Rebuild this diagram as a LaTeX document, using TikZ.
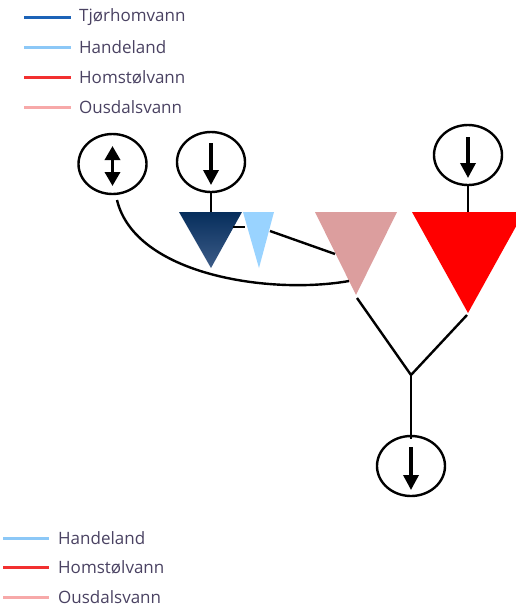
\documentclass[tikz,border=0pt]{standalone}
\usepackage{fontspec}
\setmainfont{Open Sans}
\usetikzlibrary{shapes.geometric,arrows.meta}
\definecolor{legtext}{HTML}{4A4262}
\definecolor{ctjor}{HTML}{1C63B7}
\definecolor{chand}{HTML}{8CC8F7}
\definecolor{chom}{HTML}{F23030}
\definecolor{cous}{HTML}{F7A9A9}
\definecolor{tdarktop}{HTML}{062E5C}
\definecolor{tdarkbot}{HTML}{3D5C88}
\definecolor{tlight}{HTML}{99D3FF}
\definecolor{tpink}{HTML}{DC9E9E}
\definecolor{tred}{HTML}{FF0000}
\tikzset{
  valve/.style={draw=black, line width=2.4pt, ellipse, minimum width=68pt, minimum height=60pt, inner sep=0pt},
  conn/.style={draw=black, line width=2.4pt},
  flow/.style={line width=3.4pt, -{Triangle[length=15pt,width=15pt]}},
  bflow/.style={line width=3.4pt, {Triangle[length=14pt,width=15pt]}-{Triangle[length=14pt,width=15pt]}},
  legline/.style={line width=3pt},
  legtxt/.style={anchor=west, text=legtext, font=\fontsize{17}{19}\selectfont, inner sep=0pt}
}
\begin{document}
\begin{tikzpicture}[x=1pt,y=-1pt]
\useasboundingbox (0,0) rectangle (515,606);
% top legend
\draw[legline,ctjor] (24,17) -- (71,17);
\node[legtxt] (l1) at (79,17) {Tjørhomvann};
\draw[legline,chand] (24,47) -- (71,47);
\node[legtxt] (l2) at (79,47) {Handeland};
\draw[legline,chom] (24,77) -- (71,77);
\node[legtxt] (l3) at (79,77) {Homstølvann};
\draw[legline,cous] (24,107) -- (71,107);
\node[legtxt] (l4) at (79,107) {Ousdalsvann};
% bottom legend
\draw[legline,chand] (3,538) -- (49,538);
\node[legtxt] (b2) at (58,538) {Handeland};
\draw[legline,chom] (3,567) -- (49,567);
\node[legtxt] (b3) at (58,567) {Homstølvann};
\draw[legline,cous] (3,597) -- (49,597);
\node[legtxt] (b4) at (58,597) {Ousdalsvann};

% triangles
\coordinate (dA) at (179,212); \coordinate (dB) at (242,212); \coordinate (dC) at (211,268);
\coordinate (hA) at (243,212); \coordinate (hB) at (274,212); \coordinate (hC) at (259,268);
\coordinate (pA) at (315,212); \coordinate (pB) at (397,212); \coordinate (pC) at (356,295);
\coordinate (rA) at (412,212); \coordinate (rB) at (524,212); \coordinate (rC) at (468,313);
\shade[top color=tdarktop, bottom color=tdarkbot] (dA) -- (dB) -- (dC) -- cycle;
\fill[tlight] (hA) -- (hB) -- (hC) -- cycle;
\fill[tpink] (pA) -- (pB) -- (pC) -- cycle;
\fill[tred] (rA) -- (rB) -- (rC) -- cycle;

% valves
\node[valve] (v1) at (112.5,164) {};
\node[valve] (v2) at (211,162) {};
\node[valve] (v3) at (468,155) {};
\node[valve] (v4) at (411,466) {};
\draw[bflow] ([yshift=18pt]v1.center) -- ([yshift=-22pt]v1.center);
\draw[flow] ([yshift=19pt]v2.center) -- ([yshift=-23pt]v2.center);
\draw[flow] ([yshift=18pt]v3.center) -- ([yshift=-23pt]v3.center);
\draw[flow] ([yshift=19pt]v4.center) -- ([yshift=-24pt]v4.center);

% connectors
\coordinate (d1) at (233,227); \coordinate (h1) at (245,227);
\coordinate (h2) at (270,231); \coordinate (p1) at (335,254);
\coordinate (c0) at (117,200); \coordinate (p2) at (349,281);
\coordinate (p3) at (357,298); \coordinate (r1) at (467,315);
\coordinate (j) at (411,375);
\draw[conn] (v2.south) -- (211,212);
\draw[conn] (v3.south) -- (468,212);
\draw[conn] (d1) -- (h1);
\draw[conn] (h2) -- (p1);
\draw[conn] (c0) .. controls (135,275) and (270,295) .. (p2);
\draw[conn] (p3) -- (j);
\draw[conn] (r1) -- (j);
\draw[conn] (j) -- ([yshift=-4pt]v4.north);
\end{tikzpicture}
\end{document}
